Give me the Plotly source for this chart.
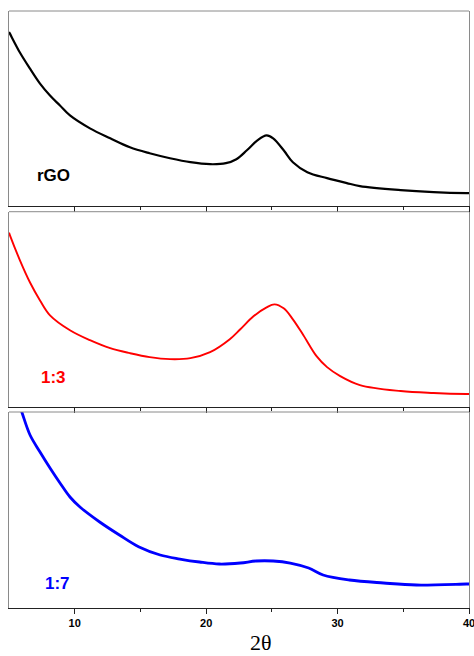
import plotly.graph_objects as go
from plotly.subplots import make_subplots

# ---- data (2θ in degrees, intensity in arbitrary units) ----
x_rgo = [5.0, 5.08, 5.84, 6.6, 7.36, 8.12, 8.88, 9.64, 11.16, 12.7, 14.2, 15.7, 17.25,
         18.8, 20.3, 21.5, 22.3, 23.1, 23.9, 24.6, 25.1, 25.9, 26.6, 27.7, 29.2, 30.7,
         31.7, 34.8, 37.3, 39.8, 40.0]
y_rgo = [175, 173, 154, 138, 123, 111, 101, 91, 78, 68, 59, 53, 48,
         44, 42, 43, 47, 56, 66, 71, 68, 56, 44, 34, 28, 23,
         20, 16, 14, 13, 13]

x_13 = [5.0, 5.08, 5.84, 6.6, 7.36, 8.12, 9.64, 11.16, 12.7, 14.2, 15.7, 17.25, 18.8,
        20.3, 21.8, 22.6, 23.6, 24.6, 25.2, 25.9, 26.6, 27.4, 28.4, 29.2, 30.2, 31.7, 34.8,
        37.3, 39.8, 40.0]
y_13 = [175, 172, 147, 125, 107, 92, 77, 67, 59, 54, 50, 48, 49,
        55, 68, 78, 91, 100, 103, 99, 88, 72, 51, 40, 31, 22, 16,
        14, 13, 13]

x_17 = [5.0, 5.5, 6.0, 6.6, 7.36, 8.12, 8.88, 9.64, 10.4, 11.9, 13.4, 14.9, 16.5,
        18.0, 19.5, 21.0, 22.6, 23.8, 25.1, 26.4, 27.8, 28.9, 30.9, 33.5, 36.0, 39.8, 40.0]
y_17 = [240, 215, 195, 173, 156, 140, 125, 111, 101, 86, 73, 61, 53,
        49, 46, 44, 45, 47, 47, 45, 40, 33, 28, 25, 23, 24, 24]

labels = ["rGO", "1:3", "1:7"]
colors = ["#000000", "#ff0000", "#0000ff"]
widths = [2.2, 1.9, 2.8]
series = [(x_rgo, y_rgo), (x_13, y_13), (x_17, y_17)]
label_pos = [(8.42, 31), (8.35, 30), (8.7, 25)]
x_ticks = [10, 20, 30, 40]

W, H = 474, 656
ml, mr, mt, mb = 9, 5, 11, 48
pw, ph = W - ml - mr, H - mt - mb

fig = make_subplots(rows=3, cols=1, shared_xaxes=False, vertical_spacing=0.01)

domains = [[0.6734, 1.0], [0.3367, 0.6638], [0.0, 0.3283]]

for i, ((xs, ys), c, w, lab, (lx, ly)) in enumerate(zip(series, colors, widths, labels, label_pos)):
    r = i + 1
    fig.add_trace(go.Scatter(x=xs, y=ys, mode="lines",
                             line=dict(color=c, width=w, shape="spline", smoothing=1.0),
                             showlegend=False, cliponaxis=True), row=r, col=1)
    xa = "x" if r == 1 else f"x{r}"
    ya = "y" if r == 1 else f"y{r}"
    fig.add_annotation(x=lx, y=ly, xref=xa, yref=ya, text=f"<b>{lab}</b>", showarrow=False,
                       font=dict(family="Liberation Sans, Arial", size=17, color=c))
    fig.add_shape(type="line", xref=f"{xa} domain", yref=f"{ya} domain",
                  x0=0, x1=1, y0=1, y1=1, line=dict(color="#8a8a8a", width=1))
    fig.update_xaxes(row=r, col=1, range=[5, 40.0001], tickvals=x_ticks,
                     ticktext=[str(t) for t in x_ticks], automargin=False,
                     showticklabels=(r == 3), ticks="outside", ticklen=5, tickwidth=1,
                     tickcolor="#222222", showline=True, linecolor="#222222", linewidth=1,
                     showgrid=False, zeroline=False, ticklabeloverflow="allow",
                     minor=dict(tickvals=[15, 25, 35], ticks="outside", ticklen=3,
                                tickcolor="#222222", tickwidth=1),
                     tickfont=dict(family="Liberation Sans, Arial", size=11, color="#000000",
                                   weight="bold"))
    fig.update_yaxes(row=r, col=1, range=[0, 196], domain=domains[i], showticklabels=False,
                     ticks="", showgrid=False, zeroline=False, showline=True, automargin=False,
                     linecolor="#8a8a8a", linewidth=1, mirror=True)

fig.add_annotation(x=(261 - ml) / pw, y=(H - mb - 642) / ph, xref="paper", yref="paper",
                   text="2θ", showarrow=False, xanchor="center", yanchor="middle",
                   font=dict(family="Liberation Serif, Times New Roman", size=22, color="#000000"))

fig.update_layout(width=W, height=H, margin=dict(l=ml, r=mr, t=mt, b=mb, autoexpand=False),
                  paper_bgcolor="white", plot_bgcolor="white")

fig.write_html("out.html")
